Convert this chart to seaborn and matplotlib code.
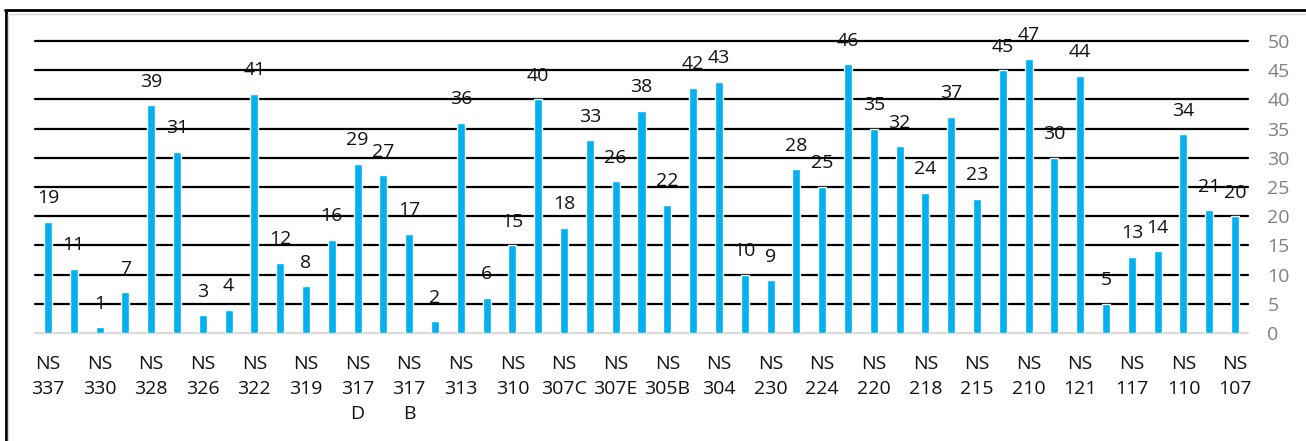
import matplotlib
matplotlib.use("Agg")
import matplotlib.pyplot as plt
import seaborn as sns
import pandas as pd
from matplotlib.lines import Line2D

values = [19, 11, 1, 7, 39, 31, 3, 4, 41, 12, 8, 16, 29, 27, 17, 2, 36, 6, 15, 40,
          18, 33, 26, 38, 22, 42, 43, 10, 9, 28, 25, 46, 35, 32, 24, 37, 23, 45, 47, 30,
          44, 5, 13, 14, 34, 21, 20]
tick_labels = ["NS\n337", "NS\n330", "NS\n328", "NS\n326", "NS\n322", "NS\n319",
               "NS\n317\nD", "NS\n317\nB", "NS\n313", "NS\n310", "NS\n307C", "NS\n307E",
               "NS\n305B", "NS\n304", "NS\n230", "NS\n224", "NS\n220", "NS\n218",
               "NS\n215", "NS\n210", "NS\n121", "NS\n117", "NS\n110", "NS\n107"]
y_ticks = [0, 5, 10, 15, 20, 25, 30, 35, 40, 45, 50]

sns.set_theme(style="white")
plt.rcParams['font.family'] = ['Open Sans', 'DejaVu Sans']

W, H = 1306, 441
FS = 14
fig = plt.figure(figsize=(W / 100, H / 100), dpi=100)
ax = fig.add_axes([35 / W, 1 - 333 / H, (1248 - 35) / W, (333 - 41) / H])

df = pd.DataFrame({"pos": list(range(len(values))), "value": values})
sns.barplot(data=df, x="pos", y="value", color="#00B0F0", saturation=1,
            width=0.31, ax=ax)

ax.set_xlim(-0.5, len(values) - 0.5)
ax.set_ylim(0, 50)
ax.set_xlabel("")
ax.set_ylabel("")

ax.set_xticks(list(range(0, len(values), 2)))
ax.set_xticklabels(tick_labels, fontsize=FS, color="#111111", linespacing=1.5,
                   va="top")
ax.tick_params(axis="x", length=0, pad=16)

ax.yaxis.tick_right()
ax.set_yticks(y_ticks)
ax.set_yticklabels([str(t) for t in y_ticks], fontsize=FS, color="#808080")
ax.tick_params(axis="y", length=0, pad=14)

for s in ax.spines.values():
    s.set_visible(False)

ax.set_axisbelow(True)
ax.yaxis.grid(True, color="black", linewidth=1.6)
ax.xaxis.grid(False)
gl = ax.get_ygridlines()
for g in gl:
    g.set_clip_on(False)
gl[0].set_color("#d9d9d9")
gl[0].set_linewidth(1.6)

for i, v in enumerate(values):
    ax.annotate(str(v), (i, v), xytext=(0, 17), textcoords="offset points",
                ha="center", va="center", fontsize=FS, color="#111111")

# figure border (clipped frame)
fig.add_artist(Line2D([5 / W, 1], [1 - 9.5 / H, 1 - 9.5 / H], color="black",
                      linewidth=2, transform=fig.transFigure))
fig.add_artist(Line2D([5.5 / W, 5.5 / W], [0, 1 - 9.5 / H], color="black",
                      linewidth=2, transform=fig.transFigure))
fig.add_artist(Line2D([8 / W, 1], [1 - 14 / H, 1 - 14 / H], color="#d9d9d9",
                      linewidth=1, transform=fig.transFigure))
fig.add_artist(Line2D([8 / W, 8 / W], [0, 1 - 14 / H], color="#d9d9d9",
                      linewidth=1, transform=fig.transFigure))

fig.savefig("out.png", dpi=100)
